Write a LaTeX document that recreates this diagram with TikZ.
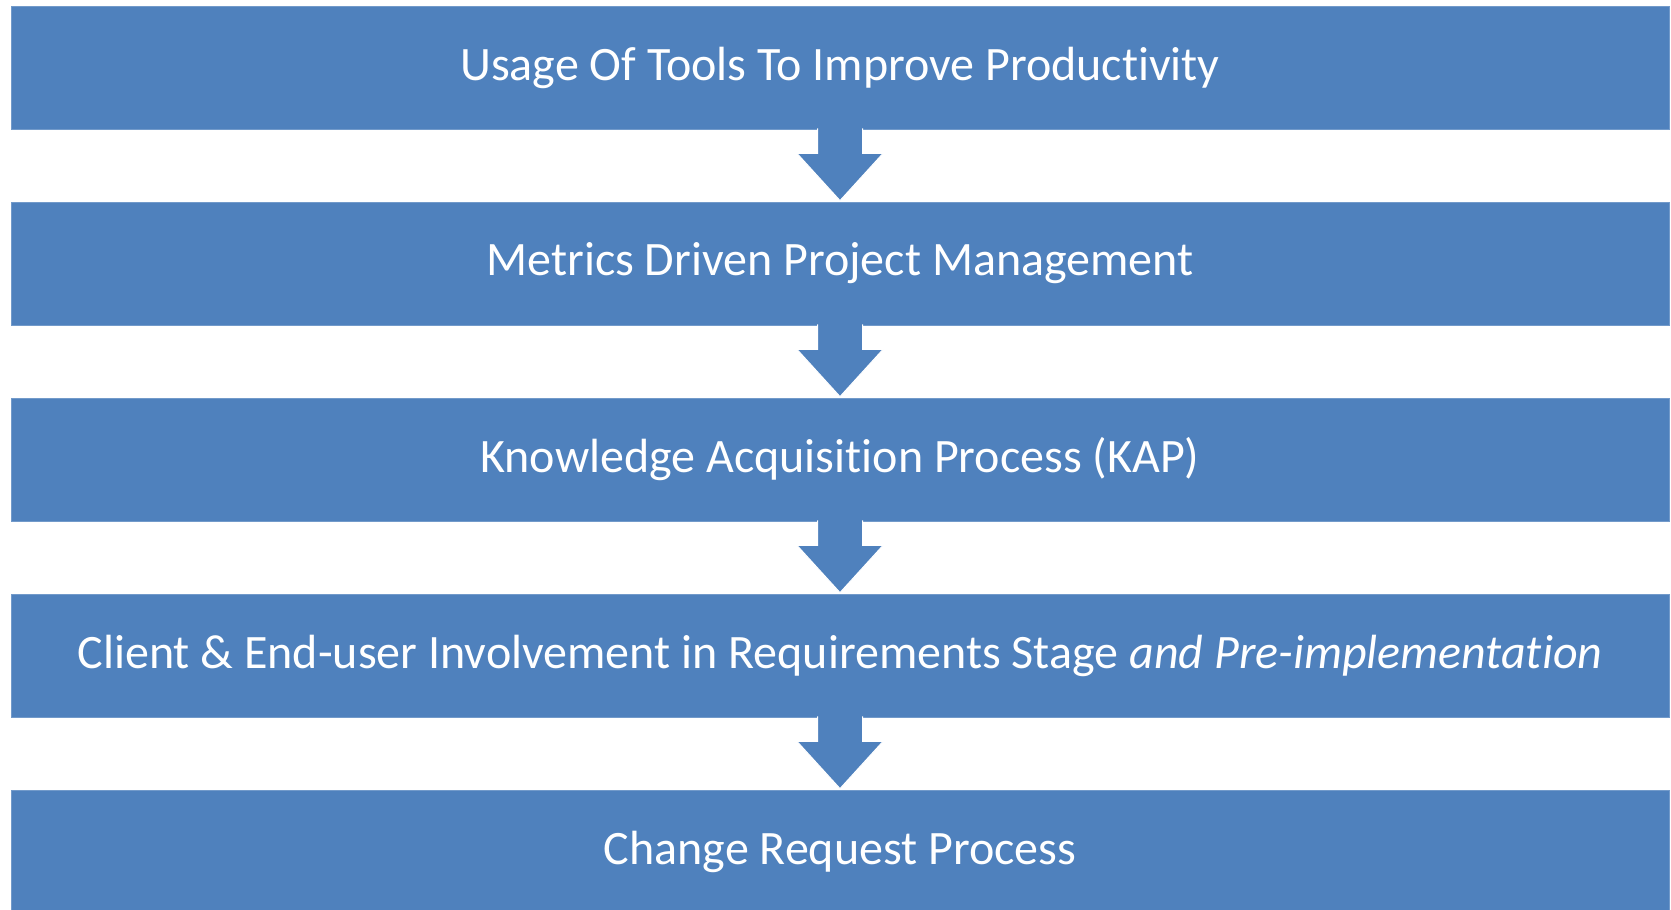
\documentclass[tikz,border=0pt]{standalone}
\usepackage{fontspec}
\setmainfont{Carlito}[Ligatures={NoCommon}]
\usetikzlibrary{calc}
\definecolor{boxblue}{HTML}{4F81BD}
\newcommand{\stagetext}[1]{\raisebox{-2.5pt}{#1}}
\tikzset{
  stage/.style={rectangle, fill=boxblue, draw=boxblue!80!white, line width=0.8pt,
    minimum width=1658pt, minimum height=123pt, inner sep=0pt,
    text=white, font=\fontsize{48}{57}\selectfont},
  downarrow/.style={fill=boxblue, draw=white, line width=1pt, line join=miter}
}
\begin{document}
\begin{tikzpicture}[x=1pt,y=-1pt]
\useasboundingbox (0,0) rectangle (1671,910);
\clip (0,0) rectangle (1671,910);
\node[stage] (b1) at (840,67.5) {\stagetext{Usage Of Tools To Improve Productivity}};
\node[stage] (b2) at (840,263.5) {\stagetext{Metrics Driven Project Management}};
\node[stage] (b3) at (840,459.5) {\stagetext{Knowledge Acquisition Process (KAP)}};
\node[stage] (b4) at (840,655.5) {\stagetext{Client \& End-user Involvement in Requirements Stage \textit{and Pre-implementation}}};
\node[stage] (b5) at (840,851.5) {\stagetext{Change Request Process}};
\foreach \a/\b in {b1/b2,b2/b3,b3/b4,b4/b5}{
  \filldraw[downarrow] ($(\a.south)+(-22.5,-1)$) -- ($(\a.south)+(-22.5,24)$) -- ($(\a.south)+(-43,24)$)
    -- ($(\b.north)+(0,-1)$) -- ($(\a.south)+(43,24)$) -- ($(\a.south)+(22.5,24)$) -- ($(\a.south)+(22.5,-1)$);
  \fill[boxblue] ($(\a.south)+(-21.5,-3)$) rectangle ($(\a.south)+(21.5,3)$);
}
\end{tikzpicture}
\end{document}
